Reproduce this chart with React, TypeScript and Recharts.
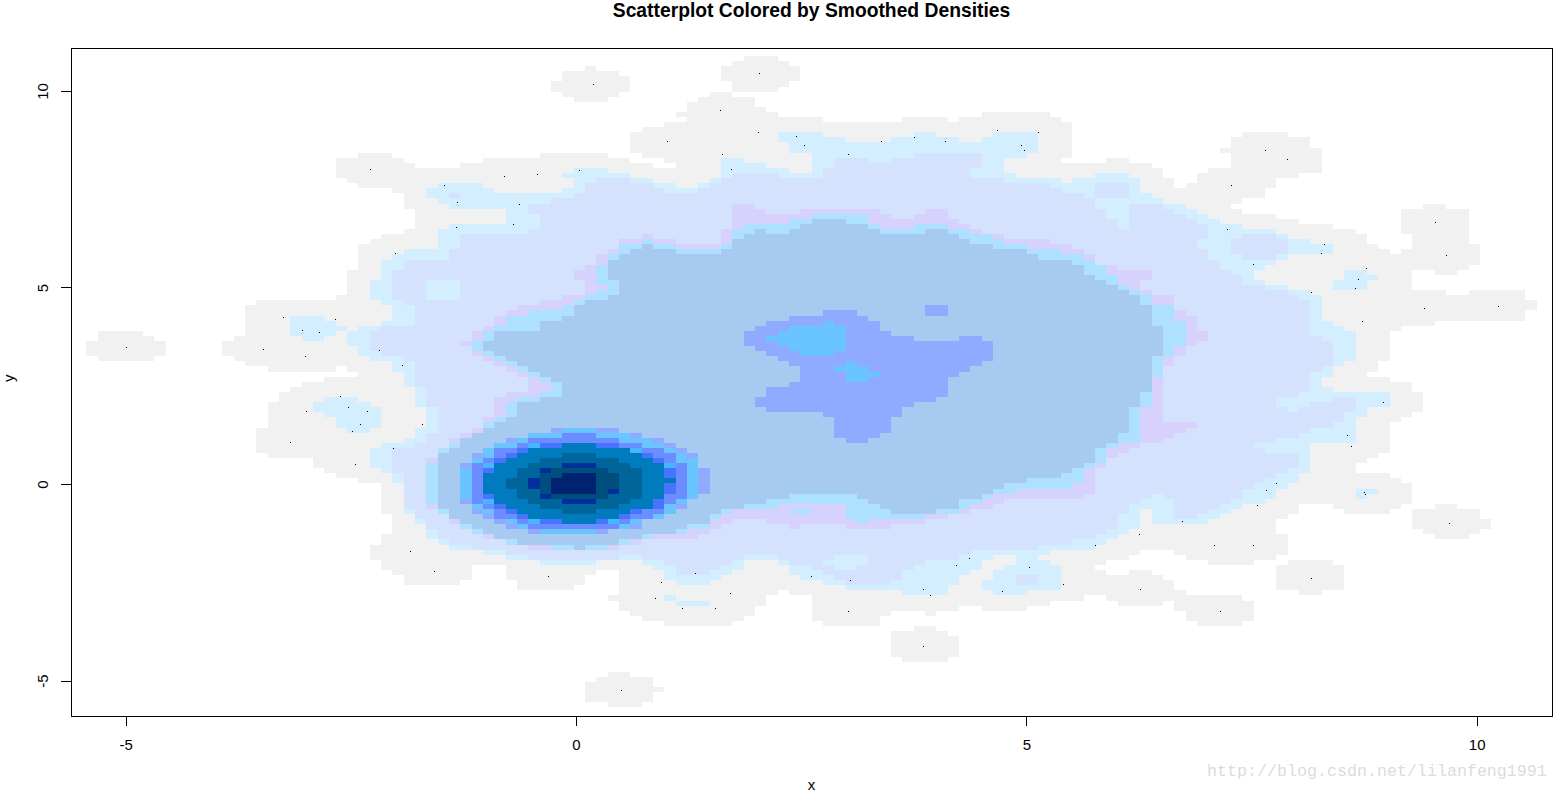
import { ScatterChart, Scatter, XAxis, YAxis, ReferenceArea } from 'recharts';

type Span = [number, number, number, number]; // rowFrom, rowTo (exclusive), colFrom, colTo (exclusive)

// density bins
const BIN_X0 = -5.5665;
const BIN_W = 0.1258;
const BIN_Y0 = 10.9037;
const BIN_H = 0.1295;

const X_DOMAIN: [number, number] = [-5.6125, 10.8304];
const Y_DOMAIN: [number, number] = [-5.8903, 11.1067];
const X_TICKS = [-5, 0, 5, 10];
const Y_TICKS = [-5, 0, 5, 10];

// each level is painted over the one before it
const greyBins: Span[] = [
  [0,1,59,62],[1,2,58,63],[2,3,45,46],[2,5,57,64],[3,4,43,48],[4,5,43,49],[5,7,42,49],[5,6,58,63],[6,7,58,62],
  [7,8,43,48],[7,8,56,58],[8,9,44,47],[8,9,55,60],[9,10,54,60],[10,11,54,61],[11,12,53,62],[11,12,80,86],
  [12,13,54,66],[12,13,73,77],[12,13,78,87],[13,14,52,88],[14,15,50,88],[15,19,49,88],[15,16,103,107],[16,18,102,109],
  [18,19,101,110],[19,20,25,28],[19,20,41,47],[19,20,50,88],[19,22,102,110],[20,21,23,29],[20,21,36,49],[20,21,52,87],
  [20,21,91,93],[21,22,23,30],[21,22,34,51],[21,22,53,95],[22,24,23,96],[22,23,100,110],[23,24,99,108],[24,25,24,97],
  [24,25,99,106],[25,26,25,97],[25,26,98,106],[26,27,28,105],[27,28,29,105],[28,29,29,103],[29,30,29,102],[29,30,119,121],
  [30,31,30,103],[30,35,117,123],[31,32,30,106],[32,33,30,108],[33,34,30,111],[34,35,29,113],[35,36,27,114],[36,37,26,114],
  [35,37,118,123],[37,38,25,115],[37,38,118,124],[38,39,25,116],[38,39,117,124],[39,41,25,124],[41,42,25,123],
  [42,43,24,118],[42,43,120,122],[43,46,24,118],[46,47,24,121],[46,47,123,128],[47,48,23,128],[48,49,16,129],[49,50,15,129],
  [50,52,15,128],[52,53,15,120],[53,54,15,117],[54,55,2,6],[54,55,15,116],[55,56,2,7],[55,56,14,116],[56,59,1,8],[56,59,13,116],
  [59,60,2,7],[59,60,14,116],[60,61,15,115],[61,62,17,23],[61,62,24,115],[62,63,25,114],[63,64,22,116],[64,65,20,118],
  [65,66,19,118],[66,68,18,119],[68,70,17,119],[70,71,17,118],[71,72,17,117],[72,73,17,116],[73,78,16,116],[78,79,17,115],
  [79,80,21,114],[80,81,21,113],[81,82,22,113],[82,83,23,116],[83,84,25,117],[84,88,27,118],[88,89,27,108],[88,89,111,117],
  [88,89,120,122],[89,90,27,108],[89,90,112,116],[89,91,118,124],[90,91,28,107],[91,94,28,106],[91,93,118,125],[93,94,119,124],
  [94,96,27,107],[94,95,120,123],[96,97,26,107],[97,98,26,94],[97,98,97,107],[98,99,26,93],[98,99,98,106],[99,100,27,91],
  [99,100,100,104],[99,100,107,111],[100,101,27,35],[100,101,38,90],[100,105,106,112],[101,102,28,35],[101,102,38,46],
  [101,102,48,91],[101,102,93,95],[102,103,29,35],[102,103,38,45],[102,103,48,96],[103,104,29,34],[103,104,39,45],[103,105,48,97],
  [104,105,39,44],[105,106,48,62],[105,106,63,98],[105,106,108,110],[106,107,47,61],[106,107,65,89],[106,107,91,103],
  [107,108,48,61],[107,108,65,86],[107,108,92,96],[107,109,97,104],[108,109,48,60],[108,109,65,78],[108,109,80,84],
  [109,110,49,60],[109,110,65,72],[109,110,75,76],[109,111,98,104],[110,111,50,59],[110,111,65,71],[111,112,52,58],[111,112,66,71],
  [111,112,99,103],[112,113,74,76],[113,114,72,77],[114,118,72,78],[118,119,73,77],[121,122,47,49],[122,123,46,51],
  [123,124,45,51],[124,125,45,52],[125,127,45,51],[127,128,47,50],
];

const cyanBins: Span[] = [
  [15,16,62,66],[15,16,74,76],[15,16,81,85],[16,17,62,68],[16,17,72,78],[16,17,80,85],[17,19,63,85],[19,20,65,84],
  [20,21,57,59],[20,22,65,82],[21,22,57,61],[22,23,44,47],[22,23,57,63],[22,23,65,82],[23,24,43,49],[23,24,57,83],[23,24,90,93],
  [24,25,44,51],[24,25,56,87],[24,25,88,94],[25,26,32,36],[25,26,44,53],[25,26,55,94],[26,27,31,37],[26,27,43,94],[27,28,31,95],
  [28,29,32,96],[29,30,33,98],[30,31,38,99],[31,32,38,100],[32,33,38,101],[33,34,33,103],[34,35,32,106],[35,36,32,107],
  [36,37,32,109],[37,38,32,111],[38,39,29,111],[39,40,28,107],[40,41,27,106],[41,42,27,105],[42,44,27,104],[42,43,112,114],
  [43,44,112,115],[44,45,26,105],[44,46,111,114],[45,46,26,107],[46,47,26,109],[47,48,26,110],[48,49,27,110],[49,52,28,110],
  [51,52,19,22],[52,53,27,111],[52,53,19,23],[53,54,25,112],[53,54,19,24],[54,55,24,113],[54,55,19,23],[55,56,24,113],[55,56,20,22],
  [56,57,24,113],[57,59,25,113],[59,60,26,113],[60,61,28,112],[61,62,28,111],[62,63,29,111],[63,65,29,110],[65,66,30,111],
  [66,69,30,116],[67,68,22,25],[68,69,21,26],[69,70,21,27],[69,71,31,114],[70,71,22,27],[71,73,23,27],[71,73,31,113],[73,74,24,26],
  [73,75,30,113],[75,76,29,113],[76,77,27,109],[77,81,26,109],[81,82,27,109],[82,84,28,108],[84,85,29,107],[85,86,29,106],
  [85,86,113,115],[86,87,29,106],[86,87,113,114],[87,88,29,105],[88,89,29,103],[89,90,29,94],[89,90,95,102],[90,91,30,94],
  [90,91,95,101],[91,92,30,94],[91,92,95,100],[92,93,31,94],[93,94,31,93],[94,95,31,92],[95,96,32,91],[96,97,33,90],[97,98,36,86],
  [98,99,38,81],[98,99,83,85],[99,100,41,46],[99,100,50,59],[99,100,62,80],[99,100,83,86],[100,101,51,59],[100,101,63,80],
  [100,101,82,87],[101,102,52,58],[101,102,63,79],[101,102,81,87],[102,103,52,57],[102,103,64,78],[102,103,81,87],[103,104,53,56],
  [103,104,66,78],[103,104,80,87],[104,105,68,77],[104,105,80,87],[105,106,73,77],[105,106,81,84],[106,107,52,53],[107,108,53,56],
];

const periBins: Span[] = [
  [19,20,74,80],[20,21,67,70],[20,21,72,80],[21,22,67,80],[22,23,66,79],[23,24,58,62],[23,24,66,79],[24,25,46,49],[24,25,57,82],
  [25,26,45,51],[25,26,56,86],[25,27,90,93],[26,27,45,52],[26,27,55,87],[27,28,33,34],[27,28,44,89],[27,28,90,93],[28,29,42,90],
  [29,30,40,90],[29,30,93,96],[30,31,40,91],[30,31,93,97],[31,32,41,91],[31,32,93,98],[32,33,41,92],[32,33,93,99],[33,34,41,92],
  [33,34,93,100],[34,35,40,100],[35,36,34,100],[35,36,103,106],[36,38,34,99],[36,38,102,107],[38,39,33,100],[38,39,102,107],
  [39,40,33,100],[39,40,103,106],[40,42,29,101],[42,43,28,102],[43,44,28,103],[44,45,28,31],[44,45,34,103],[45,46,28,31],
  [45,46,34,105],[46,47,28,31],[46,47,34,107],[47,48,28,31],[47,48,34,108],[48,49,29,109],[49,53,30,109],[53,54,27,109],
  [54,55,26,109],[55,56,26,110],[56,58,26,111],[58,59,27,111],[59,60,29,111],[60,61,30,111],[61,62,30,110],[62,65,30,109],
  [65,66,31,109],[66,67,31,108],[67,68,31,106],[67,68,111,113],[68,69,31,106],[68,69,109,113],[69,70,32,107],[69,70,108,113],
  [70,72,32,112],[72,73,32,111],[73,74,32,109],[74,75,31,108],[75,76,31,106],[76,77,30,104],[77,78,28,105],[78,81,28,108],
  [81,82,28,107],[82,83,29,106],[83,84,29,105],[84,85,29,104],[85,86,29,103],[86,87,29,95],[86,87,96,103],[87,88,29,94],
  [87,88,97,102],[88,89,29,93],[88,89,97,101],[89,90,30,93],[89,90,97,100],[90,91,30,92],[90,91,97,99],[91,93,31,92],[93,94,32,91],
  [94,95,32,90],[95,96,33,88],[96,97,35,85],[97,98,38,79],[98,99,40,48],[98,99,50,59],[98,99,62,67],[98,99,70,78],[99,100,52,58],
  [99,100,63,66],[99,100,70,75],[100,101,53,57],[100,101,65,67],[100,101,69,74],[101,102,53,56],[101,102,66,73],[102,103,67,73],
  [102,104,83,85],[103,104,68,72],
];

const lavenderBins: Span[] = [
  [29,30,58,60],[30,31,58,61],[30,31,64,71],[30,31,75,77],[31,32,58,72],[31,32,74,77],[32,33,58,78],[33,34,58,79],[34,35,57,80],
  [35,36,50,51],[35,36,57,82],[36,37,48,53],[36,37,57,86],[37,38,48,88],[38,39,47,89],[39,41,46,90],[41,42,45,92],[42,44,44,95],
  [44,46,45,94],[46,47,45,95],[47,48,43,97],[48,49,41,97],[49,50,39,97],[50,51,38,98],[51,53,37,99],[53,54,36,99],[54,56,35,100],
  [56,57,34,99],[57,59,35,98],[59,60,36,97],[60,61,37,97],[61,62,38,96],[62,63,39,96],[63,66,40,96],[66,67,38,96],[67,71,37,96],
  [71,72,36,96],[72,73,36,99],[73,74,35,98],[74,75,34,97],[75,76,33,96],[76,77,33,94],[77,78,32,93],[78,79,32,92],[79,81,31,91],
  [81,86,31,90],[86,87,31,89],[87,88,31,82],[88,89,31,81],[89,90,32,79],[90,91,33,77],[91,92,33,58],[91,92,61,75],[92,93,34,57],
  [92,93,63,64],[92,93,68,72],[93,94,35,56],[94,95,36,55],[95,96,38,50],[96,97,40,48],
];

const paleBins: Span[] = [
  [31,32,65,70],[32,33,63,70],[33,34,59,71],[33,34,74,77],[34,35,58,79],[35,36,58,81],[36,37,50,51],[36,37,58,82],[37,38,48,53],
  [37,38,57,84],[38,39,48,87],[39,40,47,89],[40,41,47,90],[41,43,46,91],[43,45,46,92],[45,46,47,93],[46,47,46,94],[47,48,45,95],
  [48,49,44,95],[49,50,43,97],[50,51,40,97],[51,52,38,97],[52,53,38,98],[53,54,37,98],[54,56,36,98],[56,57,35,98],[57,58,35,97],
  [58,59,36,97],[59,60,37,96],[60,61,38,96],[61,62,39,96],[62,63,40,96],[63,64,41,95],[64,66,42,95],[66,67,41,95],[67,68,39,95],
  [68,69,38,95],[69,71,38,94],[71,72,37,94],[72,74,36,94],[74,75,35,94],[75,76,34,94],[76,77,33,92],[77,80,32,91],[80,81,31,90],
  [81,84,31,89],[84,85,31,88],[85,86,31,83],[86,87,31,81],[87,88,31,80],[88,89,32,62],[88,89,68,79],[89,90,32,58],[89,90,63,65],
  [89,90,68,78],[90,91,33,57],[90,91,68,75],[91,92,34,56],[91,92,69,70],[92,93,34,56],[93,94,35,54],[94,95,37,51],[95,96,38,49],
  [96,97,42,47],
];

const steelBins: Span[] = [
  [32,33,65,68],[33,34,64,70],[34,35,60,61],[34,35,63,71],[34,35,75,77],[35,36,59,78],[36,37,58,79],[37,38,50,51],[37,38,58,81],
  [38,39,49,53],[38,39,57,84],[39,40,48,85],[40,41,47,88],[41,43,47,89],[43,44,47,90],[44,45,48,91],[45,46,48,92],[46,47,48,93],
  [47,48,47,94],[48,49,45,94],[49,51,44,95],[51,52,43,95],[52,53,41,95],[53,54,41,96],[54,56,37,96],[56,58,36,96],[58,59,37,96],
  [59,60,38,95],[60,61,39,95],[61,62,40,95],[62,63,41,95],[63,64,42,95],[64,66,43,95],[66,67,43,94],[67,68,41,94],[68,69,39,94],
  [69,71,39,93],[71,72,38,93],[72,73,37,93],[73,74,36,93],[74,75,35,92],[75,76,34,92],[76,77,34,91],[77,78,33,90],[78,80,32,90],
  [80,81,32,89],[81,82,32,88],[82,83,32,87],[83,84,32,84],[84,85,32,82],[85,86,32,81],[86,87,32,63],[86,87,69,80],[87,88,32,61],
  [87,88,70,78],[88,89,32,59],[88,89,71,78],[89,90,33,57],[89,90,72,76],[90,91,33,56],[91,92,34,56],[92,93,35,54],[93,94,36,53],
  [94,95,37,50],[95,96,39,48],[96,97,44,45],
];

const periwinkleBins: Span[] = [
  [49,51,75,77],[50,51,66,69],[51,52,63,70],[52,53,61,71],[53,54,60,71],[54,55,59,72],[55,56,59,74],[55,56,78,80],[56,57,59,81],
  [57,58,60,81],[58,59,61,81],[59,60,62,81],[60,61,63,80],[61,62,64,79],[62,63,64,78],[63,64,64,77],[64,65,63,77],[65,67,61,77],
  [67,68,60,76],[68,69,60,74],[69,70,61,73],[70,71,66,73],[71,74,67,72],[74,75,67,71],[75,76,68,70],
  // around the core
  [73,74,42,48],[74,75,40,50],[75,76,38,52],[76,77,37,53],[77,78,36,54],[78,80,35,55],[80,81,34,55],[81,86,34,56],[86,87,34,55],
  [87,88,34,54],[88,89,35,54],[89,90,35,53],[90,91,36,52],[91,92,37,50],[92,93,38,50],[93,94,40,47],
];

const skyBins: Span[] = [
  [52,53,66,67],[53,54,63,68],[54,55,62,68],[55,56,61,68],[56,57,62,68],[57,58,63,68],[58,59,64,67],[60,61,68,69],[61,62,67,70],
  [62,63,68,71],[63,64,68,70],
  [73,74,43,46],[74,75,40,49],[75,76,39,51],[76,77,37,52],[77,78,36,53],[78,79,36,54],[79,81,35,55],[81,87,34,55],[87,88,35,54],
  [88,89,35,53],[89,90,36,53],[90,91,37,52],[91,92,38,50],[92,93,39,49],[93,94,41,46],
];

const violetBins: Span[] = [
  [74,75,43,46],[75,76,40,48],[76,77,39,50],[77,78,37,52],[78,79,37,53],[79,80,36,53],[80,87,35,54],[87,88,35,53],[88,89,36,52],
  [89,90,37,52],[90,91,37,51],[91,92,39,49],[92,93,40,48],
];

const brightBins: Span[] = [
  [76,77,40,48],[77,78,39,50],[78,79,38,51],[79,80,37,52],[80,86,36,53],[86,88,36,52],[88,89,37,52],[89,90,38,50],[90,91,39,49],
  [91,92,40,48],
];

const royalBins: Span[] = [
  [76,77,41,48],[77,78,39,49],[78,79,38,51],[79,81,37,52],[81,86,36,53],[86,87,36,52],[87,89,37,52],[89,90,38,50],[90,91,39,49],
  [91,92,41,47],
];

const tealBins: Span[] = [
  [76,77,43,46],[77,78,40,49],[78,79,39,50],[79,80,38,51],[80,82,37,52],[82,83,36,52],[83,84,36,53],[84,86,36,52],[86,87,37,52],
  [87,88,37,51],[88,89,38,51],[89,90,39,49],[90,91,40,48],[91,92,43,46],
];

const deepBins: Span[] = [
  [78,79,43,46],[79,80,41,48],[80,81,40,49],[81,83,39,50],[83,85,38,50],[85,87,39,50],[87,88,40,49],[88,89,41,48],[89,90,43,46],
];

const cobaltBins: Span[] = [
  [80,81,43,46],[81,82,41,47],[82,83,41,48],[83,85,40,48],[85,86,41,48],[86,87,41,47],[87,88,43,46],
];

const slateBins: Span[] = [
  [81,82,42,47],[82,85,41,48],[85,86,41,47],[86,87,42,47],
];

const navyBins: Span[] = [
  [82,83,43,46],[83,86,42,46],
];

const densityLevels: { color: string; bins: Span[] }[] = [
  { color: '#f1f1f1', bins: greyBins },
  { color: '#d3eeff', bins: cyanBins },
  { color: '#d4e2fe', bins: periBins },
  { color: '#d6d1fd', bins: lavenderBins },
  { color: '#aee1ff', bins: paleBins },
  { color: '#a6caf0', bins: steelBins },
  { color: '#8faaff', bins: periwinkleBins },
  { color: '#6ac4ff', bins: skyBins },
  { color: '#6b8dff', bins: violetBins },
  { color: '#47b5ff', bins: brightBins },
  { color: '#4674ff', bins: royalBins },
  { color: '#007cbe', bins: tealBins },
  { color: '#00659b', bins: deepBins },
  { color: '#002e9b', bins: cobaltBins },
  { color: '#004e7d', bins: slateBins },
  { color: '#002270', bins: navyBins },
];

const pointX = [
  -2.29,-1.47,-0.81,-0.44,-1.33,-0.64,-0.71,-1.34,-2.01,0.18,2.03,1.59,2.01,1.01,2.44,2.53,1.62,3.38,3.75,4.09,4.67,5.12,4.93,4.97,3.01,
  1.71,0.03,7.64,7.89,7.27,7.22,8.30,8.27,7.51,9.53,9.65,8.77,-5.00,-3.26,-2.68,-3.05,-2.86,-3.48,-3.02,-2.19,-1.94,-2.63,-2.54,-3.00,
  -2.33,-2.40,-2.49,-1.72,-3.18,-2.04,-2.46,8.68,8.64,8.16,9.41,10.23,8.72,8.95,8.55,8.60,7.77,7.65,8.74,8.75,-1.85,-1.58,-0.32,1.32,
  0.94,2.60,3.04,1.70,0.87,1.17,1.54,3.01,4.21,4.36,5.02,3.85,3.92,4.72,3.85,0.49,7.55,6.72,6.25,5.76,7.08,7.51,5.40,6.26,7.14,9.69,8.16,
];
const pointY = [
  8.02,7.63,7.84,7.89,7.18,7.15,6.62,6.54,5.88,10.18,10.48,9.52,8.96,8.73,8.88,8.63,8.40,8.73,8.85,8.75,9.01,8.98,8.63,8.50,8.42,
  8.04,7.99,8.52,8.27,7.63,6.49,6.13,5.90,5.60,6.69,5.83,5.52,3.51,4.27,4.20,3.94,3.87,3.44,3.28,3.41,3.05,2.24,1.98,1.88,
  1.86,1.55,1.35,1.53,1.07,0.92,0.53,5.22,5.01,4.91,4.50,4.55,4.15,2.09,1.27,0.99,0.03,-0.13,-0.18,-0.25,-1.70,-2.21,-2.34,-2.26,
  -2.47,-2.32,-2.44,-2.75,-2.90,-3.13,-3.13,-3.23,-2.06,-1.88,-2.11,-2.67,-2.82,-2.70,-4.10,-5.24,-0.53,-0.94,-1.25,-1.53,-1.55,-1.53,-2.54,-2.67,-3.23,-0.97,-2.37,
];
const points = pointX.map((x, i) => ({ x, y: pointY[i] }));

const tickStyle = { fontFamily: 'Liberation Sans', fontSize: 15, fill: '#000' };
const tickLineStyle = { stroke: '#000', shapeRendering: 'crispEdges' };

function BinRect(props: any) {
  return (
    <rect
      x={props.x}
      y={props.y}
      width={props.width}
      height={props.height}
      fill={props.fill}
      stroke="none"
      shapeRendering="crispEdges"
    />
  );
}

function BoxRect(props: any) {
  return (
    <rect
      x={Math.round(props.x) + 0.5}
      y={Math.round(props.y) + 0.5}
      width={Math.round(props.width)}
      height={Math.round(props.height)}
      fill="none"
      stroke="#000"
      strokeWidth={1}
    />
  );
}

function PointDot(props: any) {
  return <rect x={Math.round(props.cx)} y={Math.round(props.cy)} width={1} height={1} fill="#000" shapeRendering="crispEdges" />;
}

function YTick(props: any) {
  const { x, y, payload } = props;
  const tx = x - 11;
  return (
    <text x={tx} y={y} transform={`rotate(-90 ${tx} ${y})`} textAnchor="middle" style={tickStyle}>
      {payload.value}
    </text>
  );
}

export default function App() {
  return (
    <div style={{ position: 'absolute', left: 0, top: 0, width: 1558, height: 792, background: '#fff', overflow: 'hidden' }}>
      <div
        style={{
          position: 'absolute',
          left: 71,
          width: 1481,
          top: 0,
          textAlign: 'center',
          fontFamily: 'Liberation Sans',
          fontWeight: 'bold',
          fontSize: 19.3,
          lineHeight: '21px',
          color: '#000',
        }}
      >
        Scatterplot Colored by Smoothed Densities
      </div>
      <ScatterChart width={1558} height={792} margin={{ top: 48, left: 0, right: 6, bottom: 0 }}>
        <XAxis
          type="number"
          dataKey="x"
          domain={X_DOMAIN}
          ticks={X_TICKS}
          interval={0}
          height={76}
          tickSize={10}
          tickMargin={13}
          axisLine={false}
          tickLine={tickLineStyle}
          tick={tickStyle}
          label={{ value: 'x', position: 'insideBottom', offset: 2, style: tickStyle }}
        />
        <YAxis
          type="number"
          dataKey="y"
          domain={Y_DOMAIN}
          ticks={Y_TICKS}
          interval={0}
          width={71}
          tickSize={10}
          axisLine={false}
          tickLine={tickLineStyle}
          tick={<YTick />}
          label={{ value: 'y', angle: -90, position: 'insideLeft', offset: 9, style: tickStyle }}
        />
        {densityLevels.flatMap((level) =>
          level.bins.map((b, i) => (
            <ReferenceArea
              key={`${level.color}-${i}`}
              x1={BIN_X0 + b[2] * BIN_W}
              x2={BIN_X0 + b[3] * BIN_W}
              y1={BIN_Y0 - b[0] * BIN_H}
              y2={BIN_Y0 - b[1] * BIN_H}
              fill={level.color}
              fillOpacity={1}
              stroke="none"
              shape={<BinRect />}
            />
          )),
        )}
        <Scatter data={points} shape={<PointDot />} isAnimationActive={false} />
        <ReferenceArea
          x1={X_DOMAIN[0]}
          x2={X_DOMAIN[1]}
          y1={Y_DOMAIN[0]}
          y2={Y_DOMAIN[1]}
          shape={<BoxRect />}
        />
      </ScatterChart>
      <div
        style={{
          position: 'absolute',
          left: 1207,
          top: 763,
          fontFamily: 'Liberation Mono',
          fontSize: 16.67,
          lineHeight: '18px',
          color: '#dcdcdc',
          whiteSpace: 'nowrap',
        }}
      >
        http://blog.csdn.net/lilanfeng1991
      </div>
    </div>
  );
}
